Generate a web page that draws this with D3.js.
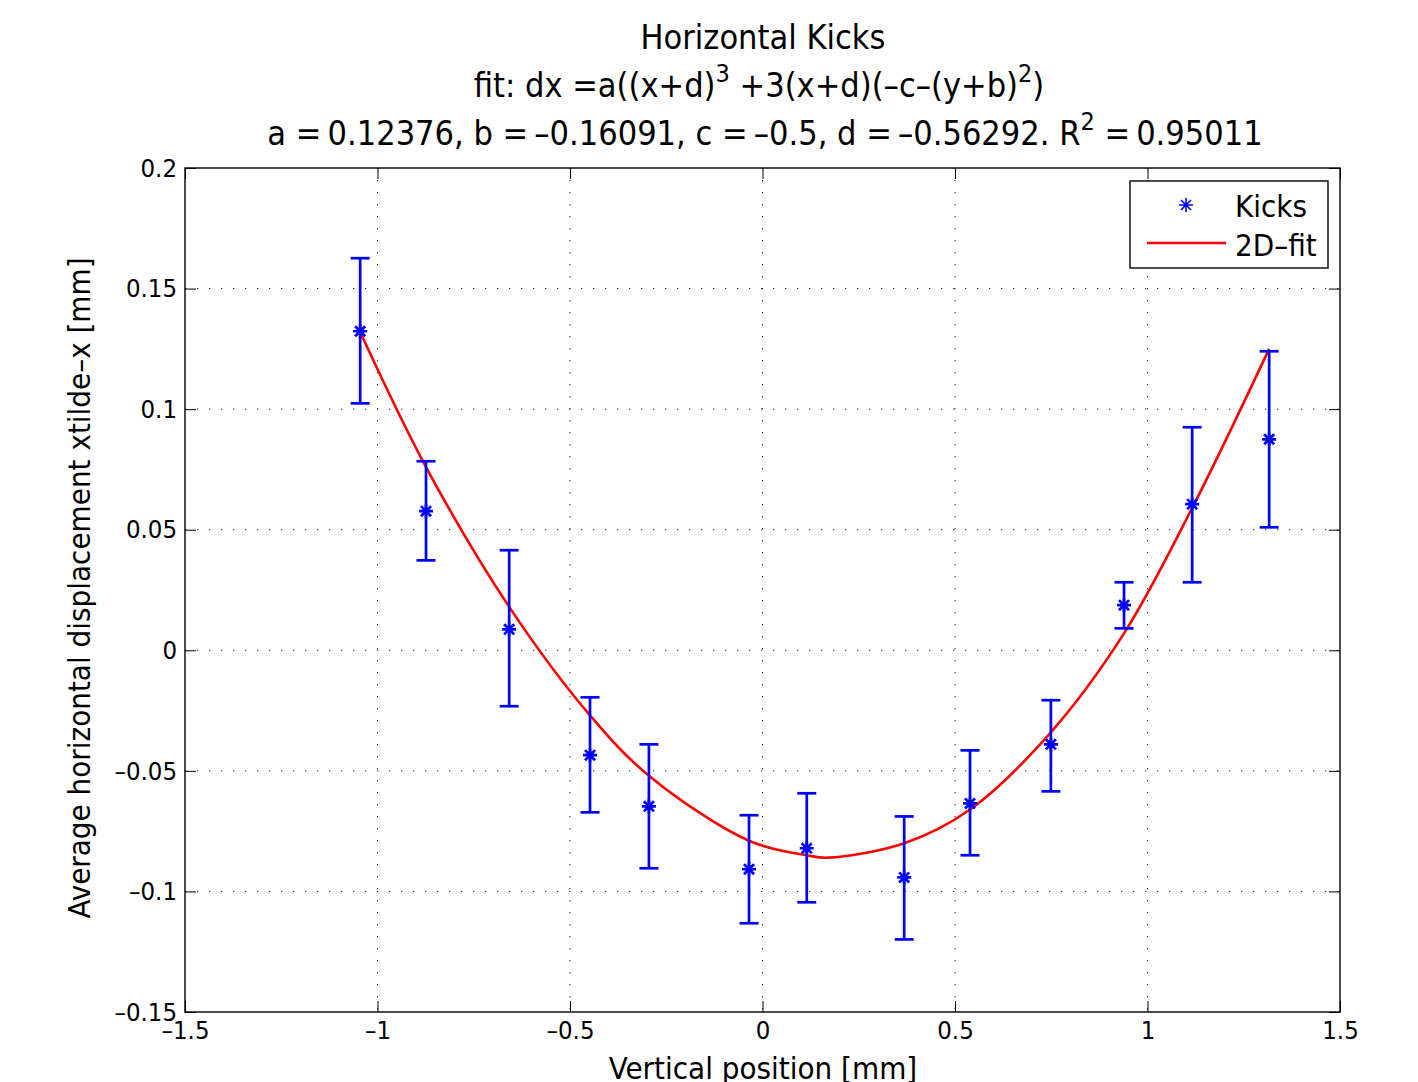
<!DOCTYPE html>
<html>
<head>
<meta charset="utf-8">
<script src="https://cdn.jsdelivr.net/npm/d3@7"></script>
<style>
  body { margin: 0; background: #fff; }
  svg text { font-family: "DejaVu Sans", sans-serif; font-stretch: condensed; fill: #000; }
</style>
</head>
<body>
<div id="chart"></div>
<script>
// --- Data ---
const xPos   = [-1.045, -0.874, -0.658, -0.448, -0.295, -0.035, 0.115, 0.368, 0.539, 0.749, 0.939, 1.116, 1.316];
const kicks  = [0.1323, 0.0577, 0.0087, -0.0435, -0.0647, -0.0908, -0.0821, -0.0942, -0.0635, -0.039, 0.0187, 0.0606, 0.0875];
const errTop = [0.1626, 0.0784, 0.0415, -0.0195, -0.039, -0.0684, -0.0593, -0.0689, -0.0415, -0.0207, 0.0282, 0.0925, 0.124];
const errBot = [0.1024, 0.0373, -0.0232, -0.0672, -0.0904, -0.1132, -0.1045, -0.1199, -0.085, -0.0585, 0.0091, 0.0282, 0.051];

// fit curve, sampled by eye along the red line
const fitX = [-1.045, -0.874, -0.658, -0.448, -0.295, -0.035, 0.115, 0.17, 0.368, 0.539, 0.749, 0.939, 1.116, 1.316];
const fitY = [0.132, 0.076, 0.018, -0.027, -0.052, -0.079, -0.085, -0.086, -0.080, -0.066, -0.034, 0.007, 0.059, 0.125];

const xTicks = [-1.5, -1, -0.5, 0, 0.5, 1, 1.5];
const yTicks = [-0.15, -0.1, -0.05, 0, 0.05, 0.1, 0.15, 0.2];

// --- Layout ---
const W = 1418, H = 1082;
const mLeft = 185, mRight = 1340, mTop = 168, mBottom = 1012;
const DASH = '\u2013'; // matlab draws minus like an en dash

const svg = d3.select('#chart').append('svg').attr('width', W).attr('height', H);

const x = d3.scaleLinear().domain([-1.5, 1.5]).range([mLeft, mRight]);
const y = d3.scaleLinear().domain([-0.15, 0.2]).range([mBottom, mTop]);

const fmt = v => String(v).replace('-', DASH);

// grid (dotted)
const grid = svg.append('g').attr('stroke', '#222').attr('stroke-width', 1).attr('stroke-dasharray', '1.3,10.7');
grid.selectAll('line.gx').data(xTicks.slice(1, -1)).join('line')
  .attr('x1', d => x(d)).attr('x2', d => x(d)).attr('y1', mTop).attr('y2', mBottom);
grid.selectAll('line.gy').data(yTicks.slice(1, -1)).join('line')
  .attr('x1', mLeft).attr('x2', mRight).attr('y1', d => y(d)).attr('y2', d => y(d));

// axes: ticks inward on all four sides
const tickLen = 11;
svg.append('g').attr('transform', `translate(0,${mBottom})`)
  .call(d3.axisBottom(x).tickValues(xTicks).tickSizeInner(-tickLen).tickSizeOuter(0).tickPadding(9).tickFormat(fmt));
svg.append('g').attr('transform', `translate(0,${mTop})`)
  .call(d3.axisTop(x).tickValues(xTicks).tickSizeInner(-tickLen).tickSizeOuter(0).tickFormat(''));
svg.append('g').attr('transform', `translate(${mLeft},0)`)
  .call(d3.axisLeft(y).tickValues(yTicks).tickSizeInner(-tickLen).tickSizeOuter(0).tickPadding(8).tickFormat(fmt));
svg.append('g').attr('transform', `translate(${mRight},0)`)
  .call(d3.axisRight(y).tickValues(yTicks).tickSizeInner(-tickLen).tickSizeOuter(0).tickFormat(''));
svg.selectAll('.domain').remove();
svg.selectAll('.tick line').attr('stroke', '#000').attr('stroke-width', 1);
svg.selectAll('.tick text').attr('font-size', 25.5).attr('fill', '#000')
  .style('font-family', '"DejaVu Sans", sans-serif').style('font-stretch', 'condensed');

svg.append('rect').attr('x', mLeft).attr('y', mTop).attr('width', mRight - mLeft).attr('height', mBottom - mTop)
  .attr('fill', 'none').attr('stroke', '#000').attr('stroke-width', 1.4);

// fit line
svg.append('path')
  .datum(fitX.map((v, i) => [v, fitY[i]]))
  .attr('d', d3.line().x(d => x(d[0])).y(d => y(d[1])).curve(d3.curveCatmullRom))
  .attr('fill', 'none').attr('stroke', '#ff0000').attr('stroke-width', 2.6);

// error bars
const blue = '#0000ff';
const pts = xPos.map((v, i) => ({ x: v, y: kicks[i], hi: errTop[i], lo: errBot[i] }));
const eb = svg.append('g').attr('stroke', blue).attr('stroke-width', 2.7).attr('fill', 'none');
eb.selectAll('line.v').data(pts).join('line')
  .attr('x1', d => x(d.x)).attr('x2', d => x(d.x)).attr('y1', d => y(d.hi)).attr('y2', d => y(d.lo));
eb.selectAll('line.t').data(pts).join('line')
  .attr('x1', d => x(d.x) - 9.5).attr('x2', d => x(d.x) + 9.5).attr('y1', d => y(d.hi)).attr('y2', d => y(d.hi));
eb.selectAll('line.b').data(pts).join('line')
  .attr('x1', d => x(d.x) - 9.5).attr('x2', d => x(d.x) + 9.5).attr('y1', d => y(d.lo)).attr('y2', d => y(d.lo));

// asterisk markers
function star(g, cx, cy, r, sw) {
  const p = `M${cx - r},${cy}L${cx + r},${cy}M${cx},${cy - r}L${cx},${cy + r}` +
    `M${cx - r * 0.72},${cy - r * 0.72}L${cx + r * 0.72},${cy + r * 0.72}` +
    `M${cx - r * 0.72},${cy + r * 0.72}L${cx + r * 0.72},${cy - r * 0.72}`;
  g.append('path').attr('d', p).attr('stroke', blue).attr('stroke-width', sw).attr('fill', 'none');
}
pts.forEach(d => star(svg, x(d.x), y(d.y), 7, 2.7));

// title (three lines with superscripts)
const TS = 34, SUP = 25, RAISE = 15;
svg.append('text').attr('text-anchor', 'middle').attr('font-size', TS)
  .attr('x', 763).attr('y', 49).text('Horizontal Kicks');
const t2 = svg.append('text').attr('text-anchor', 'middle').attr('font-size', TS).attr('x', 759).attr('y', 97);
t2.append('tspan').text('fit: dx =a((x+d)');
t2.append('tspan').attr('dy', -RAISE).attr('font-size', SUP).text('3');
t2.append('tspan').attr('dy', RAISE).text(' +3(x+d)(' + DASH + 'c' + DASH + '(y+b)');
t2.append('tspan').attr('dy', -RAISE).attr('font-size', SUP).text('2');
t2.append('tspan').attr('dy', RAISE).text(')');
const t3 = svg.append('text').attr('text-anchor', 'middle').attr('font-size', TS).attr('x', 765).attr('y', 145);
t3.append('tspan').text(`a =\u20090.12376, b =\u2009${DASH}0.16091, c =\u2009${DASH}0.5, d =\u2009${DASH}0.56292. R`);
t3.append('tspan').attr('dy', -RAISE).attr('font-size', SUP).text('2');
t3.append('tspan').attr('dy', RAISE).text(' =\u20090.95011');

// axis labels
svg.append('text').attr('text-anchor', 'middle').attr('font-size', 31)
  .attr('x', 763).attr('y', 1079).text('Vertical position [mm]');
svg.append('text').attr('text-anchor', 'middle').attr('font-size', 31)
  .attr('transform', `translate(90,588) rotate(-90)`)
  .text(`Average horizontal displacement xtilde${DASH}x [mm]`);

// legend
const lg = svg.append('g');
lg.append('rect').attr('x', 1130).attr('y', 181).attr('width', 198).attr('height', 87)
  .attr('fill', '#fff').attr('stroke', '#000').attr('stroke-width', 1.4);
star(lg, 1186, 205, 7, 1.6);
lg.append('line').attr('x1', 1147).attr('x2', 1226).attr('y1', 243).attr('y2', 243)
  .attr('stroke', '#ff0000').attr('stroke-width', 2.4);
lg.append('text').attr('x', 1235).attr('y', 217).attr('font-size', 31).text('Kicks');
lg.append('text').attr('x', 1235).attr('y', 256).attr('font-size', 31).text(`2D${DASH}fit`);
</script>
</body>
</html>
